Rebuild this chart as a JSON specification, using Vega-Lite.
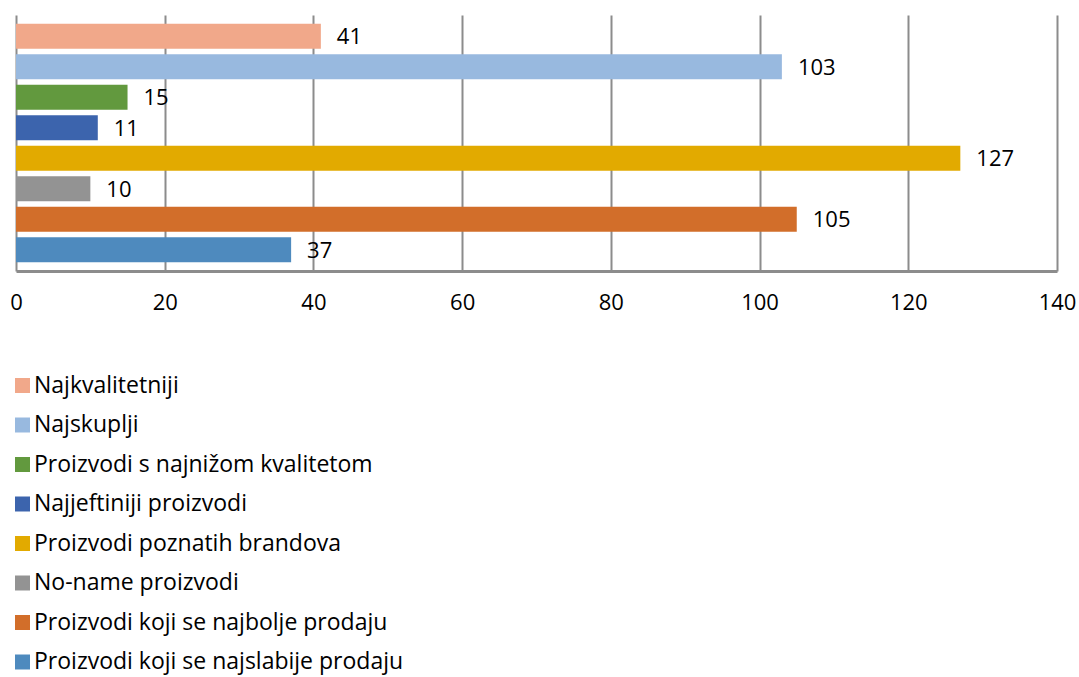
{
  "$schema": "https://vega.github.io/schema/vega-lite/v6.json",
  "width": 1041,
  "height": 256,
  "autosize": {"type": "none"},
  "padding": {"left": 16, "top": 15, "right": 22, "bottom": 406},
  "background": "white",
  "config": {"view": {"stroke": null}, "font": "Open Sans"},
  "data": {"values": [
    {"cat": "Najkvalitetniji", "value": 41},
    {"cat": "Najskuplji", "value": 103},
    {"cat": "Proizvodi s najnižom kvalitetom", "value": 15},
    {"cat": "Najjeftiniji proizvodi", "value": 11},
    {"cat": "Proizvodi poznatih brandova", "value": 127},
    {"cat": "No-name proizvodi", "value": 10},
    {"cat": "Proizvodi koji se najbolje prodaju", "value": 105},
    {"cat": "Proizvodi koji se najslabije prodaju", "value": 37}
  ]},
  "encoding": {
    "y": {"field": "cat", "type": "nominal", "axis": null,
      "sort": ["Najkvalitetniji", "Najskuplji", "Proizvodi s najnižom kvalitetom", "Najjeftiniji proizvodi", "Proizvodi poznatih brandova", "No-name proizvodi", "Proizvodi koji se najbolje prodaju", "Proizvodi koji se najslabije prodaju"],
      "scale": {"paddingInner": 0.18, "paddingOuter": 0.287}},
    "x": {"field": "value", "type": "quantitative",
      "scale": {"domain": [0, 140], "nice": false},
      "axis": {"values": [0, 20, 40, 60, 80, 100, 120, 140], "title": null, "grid": true, "gridColor": "#8c8c8c", "gridWidth": 2,
        "domainColor": "#8c8c8c", "domainWidth": 3, "ticks": false, "labelPadding": 21, "labelFontSize": 22, "labelColor": "#000000", "labelFont": "Open Sans",
        "labelFlush": false, "labelOverlap": false}}
  },
  "layer": [
    {"mark": {"type": "bar"},
     "encoding": {"color": {"field": "cat", "type": "nominal",
       "sort": ["Najkvalitetniji", "Najskuplji", "Proizvodi s najnižom kvalitetom", "Najjeftiniji proizvodi", "Proizvodi poznatih brandova", "No-name proizvodi", "Proizvodi koji se najbolje prodaju", "Proizvodi koji se najslabije prodaju"],
       "scale": {"domain": ["Najkvalitetniji", "Najskuplji", "Proizvodi s najnižom kvalitetom", "Najjeftiniji proizvodi", "Proizvodi poznatih brandova", "No-name proizvodi", "Proizvodi koji se najbolje prodaju", "Proizvodi koji se najslabije prodaju"],
         "range": ["#F1A88A", "#98B9DF", "#62993E", "#3C64AD", "#E2AA00", "#939393", "#D26E2A", "#4E8ABE"]},
       "legend": {"title": null, "orient": "none", "legendX": -5, "legendY": 359, "direction": "vertical",
         "symbolType": "square", "symbolSize": 225, "symbolStrokeWidth": 0, "labelFontSize": 23, "labelFont": "Open Sans", "labelColor": "#000000",
         "rowPadding": 15.5, "labelOffset": 0, "labelLimit": 600}}}},
    {"mark": {"type": "text", "align": "left", "baseline": "middle", "dx": 16, "dy": 1, "fontSize": 22, "font": "Open Sans", "color": "#000000"},
     "encoding": {"text": {"field": "value", "type": "quantitative"}}}
  ]
}
